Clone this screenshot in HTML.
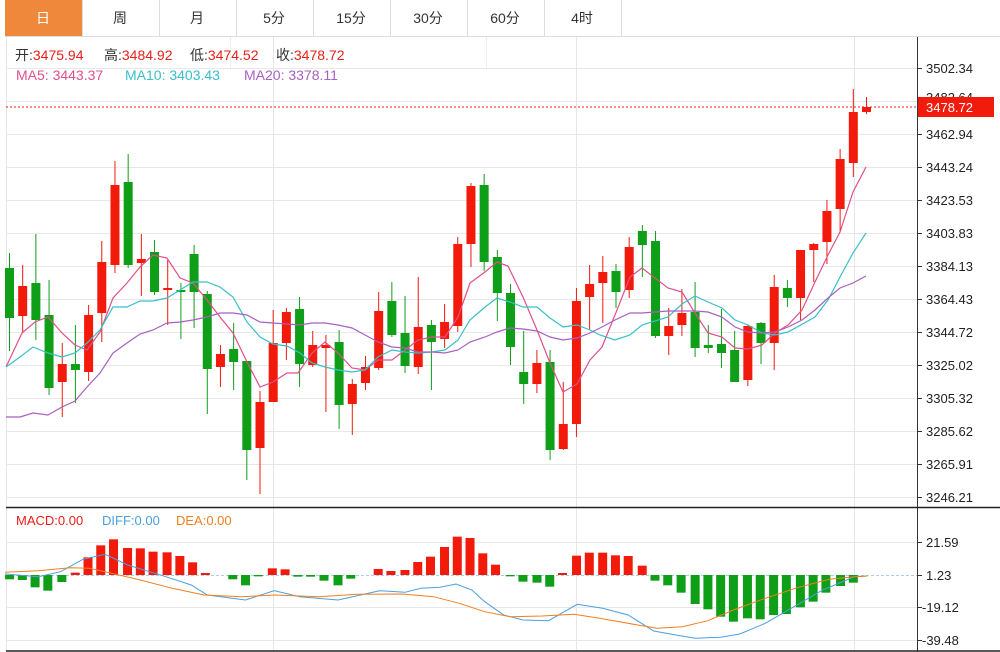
<!DOCTYPE html>
<html><head><meta charset="utf-8"><style>
html,body{margin:0;padding:0;background:#fff;width:1000px;height:652px;overflow:hidden}
text{font-family:"Liberation Sans","Noto Sans CJK SC",sans-serif}
</style></head><body>
<svg id="s" width="1000" height="652" xmlns="http://www.w3.org/2000/svg">
<rect width="1000" height="652" fill="#fff"/>
<g id="grid"></g>
<rect x="5" y="0" width="77" height="36" fill="#f0883c"/>
<line x1="5" y1="36.5" x2="1000" y2="36.5" stroke="#ddd"/>
<g stroke="#ddd">
<line x1="159.5" y1="0" x2="159.5" y2="36"/><line x1="236.5" y1="0" x2="236.5" y2="36"/>
<line x1="313.5" y1="0" x2="313.5" y2="36"/><line x1="390.5" y1="0" x2="390.5" y2="36"/>
<line x1="467.5" y1="0" x2="467.5" y2="36"/><line x1="544.5" y1="0" x2="544.5" y2="36"/>
<line x1="621.5" y1="0" x2="621.5" y2="36"/><line x1="82.5" y1="0" x2="82.5" y2="36"/>
</g>
<g font-size="14" text-anchor="middle" fill="#333">
<text x="43" y="23" fill="#fff">日</text><text x="120" y="23">周</text><text x="197" y="23">月</text>
<text x="274" y="23">5分</text><text x="351" y="23">15分</text><text x="428" y="23">30分</text>
<text x="505" y="23">60分</text><text x="582" y="23">4时</text>
</g>
<g font-size="14">
<text x="15" y="60" fill="#333">开:<tspan fill="#e8201a">3475.94</tspan></text>
<text x="104" y="60" fill="#333">高:<tspan fill="#e8201a">3484.92</tspan></text>
<text x="190" y="60" fill="#333">低:<tspan fill="#e8201a">3474.52</tspan></text>
<text x="276" y="60" fill="#333">收:<tspan fill="#e8201a">3478.72</tspan></text>
<text x="16" y="80" fill="#e0508a">MA5: 3443.37</text>
<text x="125" y="80" fill="#38c0c8">MA10: 3403.43</text>
<text x="244" y="80" fill="#a860c0">MA20: 3378.11</text>
<text x="16" y="525" fill="#e8201a" font-size="13">MACD:0.00</text>
<text x="102" y="525" fill="#4aa0e0" font-size="13">DIFF:0.00</text>
<text x="176" y="525" fill="#f08020" font-size="13">DEA:0.00</text>
</g>
<g id="cand"></g>
<g id="lines" fill="none" stroke-width="1.2"></g>
<line x1="6" y1="107" x2="917" y2="107" stroke="#e8201a" stroke-dasharray="2,2"/>
<line x1="917.5" y1="37" x2="917.5" y2="652" stroke="#333"/>
<line x1="6" y1="507.5" x2="1000" y2="507.5" stroke="#222" stroke-width="1.5"/>
<line x1="6" y1="651" x2="1000" y2="651" stroke="#222" stroke-width="1.5"/>
<g id="axis" font-size="13" fill="#222"></g>
<rect x="918" y="97" width="76" height="20" fill="#f21a0a"/>
<text x="926" y="112" font-size="13" fill="#fff">3478.72</text>
</svg>
<script>
var NS="http://www.w3.org/2000/svg";
function el(p,t,a){var e=document.createElementNS(NS,t);for(var k in a)e.setAttribute(k,a[k]);document.getElementById(p).appendChild(e);return e;}
var grid=[68,101,134,167,200,233,266,299,332,365,398,431,464,497];
var lab=["3502.34","3482.64","3462.94","3443.24","3423.53","3403.83","3384.13","3364.43","3344.72","3325.02","3305.32","3285.62","3265.91","3246.21"];
grid.forEach(function(y,i){el("grid","line",{x1:6,y1:y+.5,x2:917,y2:y+.5,stroke:"#e8e8e8"});
 el("axis","line",{x1:917,y1:y+.5,x2:922,y2:y+.5,stroke:"#333"});
 if(i!=1){var t=el("axis","text",{x:926,y:y+5});t.textContent=lab[i];}});
var t1=el("axis","text",{x:926,y:102,fill:"#222"});t1.textContent="3482.64";
[[542,"21.59"],[575,"1.23"],[607,"-19.12"],[640,"-39.48"]].forEach(function(a){
 el("axis","line",{x1:917,y1:a[0]+.5,x2:922,y2:a[0]+.5,stroke:"#333"});
 var t=el("axis","text",{x:a[1][0]=="-"?922:926,y:a[0]+5});t.textContent=a[1];
 if(a[1]!="1.23")el("grid","line",{x1:6,y1:a[0]+.5,x2:917,y2:a[0]+.5,stroke:"#e8e8e8"});});
el("grid","line",{x1:6,y1:575.5,x2:917,y2:575.5,stroke:"#a8d0e8","stroke-dasharray":"3,2"});
[6.5,273.5,576.5,854.5].forEach(function(x){el("grid","line",{x1:x,y1:37,x2:x,y2:651,stroke:"#e6e6e6"});});
el("grid","line",{x1:230.5,y1:37,x2:230.5,y2:68,stroke:"#eee"});
el("grid","line",{x1:486.5,y1:37,x2:486.5,y2:68,stroke:"#eee"});
var C=[
["G",253,268,318,351],["R",265,286,316,333],["G",234,283,320,340],["G",280,315,388,395],["R",343,364,382,417],
["G",325,364,370,403],["R",305,315,372,381],["R",241,262,313,342],["R",161,185,265,273],["G",154,182,265,268],
["R",234,259,263,296],["G",240,252,292,295],["R",260,288,290,325],["G",283,290,292,339],["G",245,254,292,328],
["G",291,294,369,414],["R",345,354,367,387],["G",323,349,362,390],["G",361,361,450,480],["R",391,402,448,494],
["R",310,343,402,402],["R",308,312,343,360],["G",297,309,364,387],["R",331,345,365,367],["R",335,345,348,412],
["G",330,342,405,429],["R",379,384,404,435],["R",356,367,383,390],["R",292,311,368,370],["G",282,301,335,337],
["G",296,333,366,373],["R",277,327,367,374],["G",320,325,342,390],["R",304,322,339,348],["R",237,244,326,332],
["R",183,186,244,267],["G",174,185,262,271],["G",250,257,293,321],["G",284,293,347,365],["G",331,372,384,404],
["R",350,363,384,393],["G",350,362,450,460],["R",382,424,449,450],["R",288,301,424,437],["R",265,284,297,330],
["R",256,272,283,323],["G",264,271,292,308],["R",237,247,290,298],["G",225,231,245,277],["G",231,241,336,338],
["R",308,326,336,355],["R",289,313,325,336],["G",282,312,348,357],["G",325,345,348,353],["G",309,344,353,368],
["G",331,350,382,382],["R",325,326,380,386],["G",322,323,343,364],["R",275,287,343,370],["G",280,288,298,307],
["R",250,250,298,320],["R",243,244,250,282],["R",200,211,242,264],["R",149,159,209,232],["R",89,112,163,177],["R",97,107,112,114]];
var x0=9.5,dx=(866.5-9.5)/65;
C.forEach(function(c,i){var x=x0+i*dx,col=c[0]=="R"?"#f21a0a":"#0e9e18";
 el("cand","line",{x1:x,y1:c[1],x2:x,y2:c[4],stroke:col,"stroke-width":1});
 el("cand","rect",{x:x-4.5,y:c[2],width:9,height:Math.max(1.5,c[3]-c[2]),fill:col});});
function pl(pts,col){el("lines","polyline",{points:pts.map(function(p){return p.join(",")}).join(" "),stroke:col});}
pl([[6,367],[22,333],[35,322],[48,317],[62,333],[75,345],[87,350],[100,332],[113,298],[127,283],[140,267],[153,255],[167,258],[180,278],[193,283],[207,300],[220,317],[233,333],[247,362],[260,387],[273,382],[287,373],[298,373],[312,353],[325,342],[338,353],[352,368],[365,370],[378,360],[392,360],[405,350],[418,340],[432,337],[445,337],[458,317],[470,283],[485,272],[497,262],[508,266],[523,297],[537,330],[550,363],[563,392],[577,384],[590,360],[602,347],[617,310],[630,277],[642,268],[668,288],[682,292],[695,313],[708,333],[722,337],[735,348],[748,349],[762,345],[775,333],[788,325],[802,310],[815,282],[828,255],[840,232],[853,192],[866,167]],"#e0508a");
pl([[6,367],[20,357],[33,347],[48,353],[62,357],[75,353],[87,343],[100,330],[113,307],[127,307],[140,301],[153,301],[167,298],[180,290],[193,282],[207,282],[220,287],[233,297],[247,322],[260,337],[273,344],[287,346],[300,353],[312,363],[325,367],[338,370],[352,372],[365,370],[378,357],[392,350],[405,352],[418,353],[432,352],[445,350],[458,340],[470,320],[485,307],[497,298],[510,302],[523,307],[537,307],[550,318],[563,327],[577,325],[590,330],[600,335],[615,340],[630,335],[642,325],[668,317],[682,304],[695,296],[708,302],[722,308],[735,320],[748,325],[762,333],[775,335],[788,332],[815,317],[828,300],[840,277],[853,253],[866,233]],"#38c0c8");
pl([[6,417],[20,417],[33,413],[48,415],[62,407],[75,401],[87,387],[100,373],[113,353],[127,343],[140,334],[153,330],[167,323],[180,322],[193,320],[207,317],[220,313],[233,313],[247,315],[260,322],[273,323],[287,324],[300,325],[312,323],[325,323],[338,325],[352,328],[365,335],[378,342],[392,347],[405,348],[418,352],[432,352],[445,353],[458,350],[470,342],[485,337],[497,332],[510,328],[523,329],[537,331],[550,337],[563,340],[577,338],[590,333],[600,328],[615,320],[630,313],[642,313],[668,311],[682,311],[695,311],[708,312],[722,317],[735,327],[748,332],[762,333],[775,332],[788,327],[802,320],[815,310],[828,298],[840,288],[853,283],[866,276]],"#a860c0");
var H=[[15,238],[35,240],[55,262],[75,272],[97,246],[118,218],[138,172],[158,136],[178,118],[200,144],[220,145],[240,155],[262,157],[282,168],[302,187],[322,219],[345,225],[365,238],[385,256],[405,229],[427,205],[447,208],[467,230],[487,230],[508,242],[530,256],[550,236],[570,225],[593,207],[613,213],[635,210],[655,186],[675,170],[697,141],[717,110],[737,114],[757,160],[777,194],[800,229],[820,245],[842,248],[862,260],[882,219],[904,167],[924,158],[945,158],[965,166],[985,168],[1007,197],[1027,242],[1047,256],[1068,278],[1090,312],[1110,328],[1130,350],[1150,365],[1172,355],[1192,358],[1213,345],[1233,342],[1255,322],[1275,305],[1295,278],[1318,258],[1338,248],[1358,228]];
H.forEach(function(h){var x=h[0]/1.568,y=500+h[1]/3,z=575;var col=y<z?"#f21a0a":"#0e9e18";
 var t=Math.min(y,z),b=Math.max(y,z);if(b-t<1.2)return;el("cand","rect",{x:x-4.5,y:t,width:9,height:b-t,fill:col});});
function ml(pts,col){el("lines","polyline",{points:pts.map(function(p){return (p[0]/1.568).toFixed(1)+","+(500+p[1]/3).toFixed(1)}).join(" "),stroke:col,"stroke-width":1});}
ml([[8,222],[60,230],[95,215],[130,178],[165,163],[200,195],[260,230],[300,255],[325,285],[385,300],[430,272],[470,290],[530,300],[595,272],[635,277],[660,265],[690,262],[715,252],[740,270],[760,305],[790,345],[820,360],[860,362],[905,313],[945,325],[985,345],[1025,393],[1060,405],[1090,415],[1130,412],[1160,402],[1200,370],[1245,320],[1290,270],[1340,230],[1360,228]],"#4aa0e0");
ml([[8,217],[60,212],[110,203],[140,205],[175,220],[220,240],[270,265],[320,285],[380,290],[430,285],[500,290],[560,283],[630,282],[680,290],[720,310],[760,335],[800,350],[850,348],[900,343],[940,355],[1000,375],[1030,385],[1070,380],[1110,362],[1150,330],[1200,295],[1250,263],[1300,238],[1340,230],[1360,228]],"#f08020");
</script>
</body></html>
